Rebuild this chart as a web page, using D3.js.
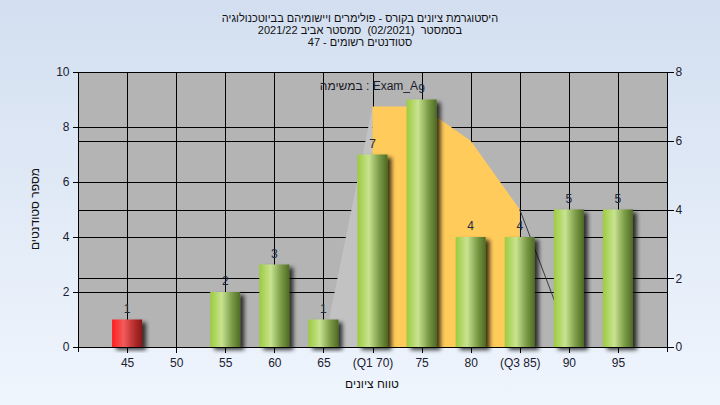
<!DOCTYPE html>
<html><head><meta charset="utf-8">
<script src="https://cdn.jsdelivr.net/npm/d3@7"></script>
<style>
html,body{margin:0;padding:0;}
body{width:720px;height:405px;overflow:hidden;}
text{font-family:"Liberation Sans",Arial,sans-serif;}
</style></head>
<body>
<svg id="chart" width="720" height="405"></svg>
<script>
// ---- data ----
const categories = [45,50,55,60,65,70,75,80,85,90,95];
const tickLabels = ["45","50","55","60","65","(Q1 70)","75","80","(Q3 85)","90","95"];
const counts = [1,0,2,3,1,7,9,4,4,5,5];
const curveX = [65,70,75,80,85,90];
const curveY = [0,7,7,6,4,0.25];
const leftTicks = [0,2,4,6,8,10];
const rightTicks = [0,2,4,6,8];
const titleLines = [
  "היסטוגרמת ציונים בקורס - פולימרים ויישומיהם בביוטכנולוגיה",
  "בסמסטר  (02/2021)  סמסטר אביב 2021/22",
  "סטודנטים רשומים - 47"
];
const xTitle = "טווח ציונים";
const yTitle = "מספר סטודנטים";
const noteText = "במשימה : Exam_A";

const svg = d3.select("#chart");
const W = 720, H = 405;
const m = {l:78, r:667, t:72, b:347};

const defs = svg.append("defs");
const bgG = defs.append("linearGradient").attr("id","bg").attr("x1",0).attr("y1",0).attr("x2",0).attr("y2",1);
bgG.append("stop").attr("offset","0%").attr("stop-color","#d3dff0");
bgG.append("stop").attr("offset","100%").attr("stop-color","#eff5fd");

function cyl(id, c0, c1, c2, c3){
  const g = defs.append("linearGradient").attr("id",id).attr("x1",0).attr("y1",0).attr("x2",1).attr("y2",0);
  g.append("stop").attr("offset","0%").attr("stop-color",c0);
  g.append("stop").attr("offset","38%").attr("stop-color",c1);
  g.append("stop").attr("offset","72%").attr("stop-color",c2);
  g.append("stop").attr("offset","100%").attr("stop-color",c3);
}
cyl("green","#9ccb3e","#c8e391","#7c9c48","#4e6b22");
cyl("red","#ff1e1e","#f45a5a","#b83030","#8a1515");
const f = defs.append("filter").attr("id","shadow").attr("x","-20%").attr("y","-10%").attr("width","160%").attr("height","130%");
f.append("feDropShadow").attr("dx",4).attr("dy",3).attr("stdDeviation",2).attr("flood-color","#000").attr("flood-opacity",0.75);

svg.append("rect").attr("width",W).attr("height",H).attr("fill","url(#bg)");

const x = d3.scaleLinear().domain([40,100]).range([m.l,m.r]);
const y = d3.scaleLinear().domain([0,10]).range([m.b,m.t]);
const y2 = d3.scaleLinear().domain([0,8]).range([m.b,m.t]);

// plot background
svg.append("rect").attr("x",m.l).attr("y",m.t).attr("width",m.r-m.l).attr("height",m.b-m.t).attr("fill","#b4b4b4");

// gridlines
const grid = svg.append("g").attr("stroke","#000").attr("stroke-width",1).attr("shape-rendering","crispEdges");
categories.forEach(c=>grid.append("line").attr("x1",Math.round(x(c))+0.5).attr("x2",Math.round(x(c))+0.5).attr("y1",m.t).attr("y2",m.b));
leftTicks.forEach(t=>grid.append("line").attr("x1",m.l).attr("x2",m.r).attr("y1",Math.round(y(t))+0.5).attr("y2",Math.round(y(t))+0.5));
rightTicks.forEach(t=>grid.append("line").attr("x1",m.l).attr("x2",m.r).attr("y1",Math.round(y2(t))+0.5).attr("y2",Math.round(y2(t))+0.5));

// distribution area
const pts = curveX.map((cx,i)=>({x:cx,y:curveY[i]}));
const area = d3.area().x(d=>x(d.x)).y0(y2(0)).y1(d=>y2(d.y));
const line = d3.line().x(d=>x(d.x)).y(d=>y2(d.y));
svg.append("path").attr("d",area(pts.filter(d=>d.x<=70))).attr("fill","#c2c2c2");
svg.append("path").attr("d",area(pts.filter(d=>d.x>=70&&d.x<=85))).attr("fill","#ffcb5a");
svg.append("path").attr("d",line(pts.filter(d=>d.x>=85))).attr("fill","none").attr("stroke","#3a3a3a").attr("stroke-width",1);

// axes
const axL = svg.append("g").attr("transform",`translate(${m.l+0.5},0)`)
  .call(d3.axisLeft(y).tickValues(leftTicks).tickSize(6).tickPadding(3).tickFormat(d3.format("d")));
const axR = svg.append("g").attr("transform",`translate(${m.r+0.5},0)`)
  .call(d3.axisRight(y2).tickValues(rightTicks).tickSize(6).tickPadding(2).tickFormat(d3.format("d")));
const axB = svg.append("g").attr("transform",`translate(0,${m.b+0.5})`)
  .call(d3.axisBottom(x).tickValues(categories).tickSize(5).tickPadding(6).tickFormat((d,i)=>tickLabels[i]));
[axL,axR,axB].forEach(a=>{
  a.selectAll("line").attr("stroke","#000").attr("shape-rendering","crispEdges");
  a.selectAll("text").attr("font-size",12).attr("fill","#1a2030").attr("font-family","'Liberation Sans',Arial,sans-serif");
  a.select(".domain").remove();
});
const frame = svg.append("g").attr("stroke","#000").attr("shape-rendering","crispEdges");
frame.append("line").attr("x1",m.l+0.5).attr("x2",m.l+0.5).attr("y1",m.t).attr("y2",m.b+5);
frame.append("line").attr("x1",m.r+0.5).attr("x2",m.r+0.5).attr("y1",m.t).attr("y2",m.b+5);
frame.append("line").attr("x1",m.l).attr("x2",m.r).attr("y1",m.b+0.5).attr("y2",m.b+0.5);

// bars
const bw = 30;
svg.append("g").selectAll("rect").data(categories.map((c,i)=>({c,v:counts[i],i})).filter(d=>d.v>0)).join("rect")
  .attr("x",d=>x(d.c)-bw/2).attr("width",bw)
  .attr("y",d=>y(d.v)).attr("height",d=>y(0)-y(d.v))
  .attr("fill",d=>d.i===0?"url(#red)":"url(#green)")
  .attr("filter","url(#shadow)");

// note
svg.append("text").attr("x",418).attr("y",90).attr("text-anchor","end").attr("font-size",12).attr("fill","#1a1a2a")
  .attr("direction","ltr").text(noteText);

// bar labels
svg.append("g").selectAll("text").data(categories.map((c,i)=>({c,v:counts[i]})).filter(d=>d.v>0)).join("text")
  .attr("x",d=>x(d.c)).attr("y",d=>y(d.v)-7).attr("text-anchor","middle").attr("font-size",12).attr("fill","#1d2a40")
  .text(d=>d.v);

// titles
titleLines.forEach((t,i)=>{
  svg.append("text").attr("x",360).attr("y",21.5+i*12).attr("text-anchor","middle").attr("direction","rtl")
    .style("white-space","pre").attr("font-size",11).attr("fill","#111").text(t);
});
svg.append("text").attr("x",372).attr("y",388).attr("text-anchor","middle").attr("direction","rtl").attr("font-size",12).attr("fill","#111").text(xTitle);
svg.append("text").attr("transform","translate(39,209) rotate(-90)").attr("text-anchor","middle").attr("direction","rtl").attr("font-size",12).attr("fill","#111").text(yTitle);
</script>
</body></html>
